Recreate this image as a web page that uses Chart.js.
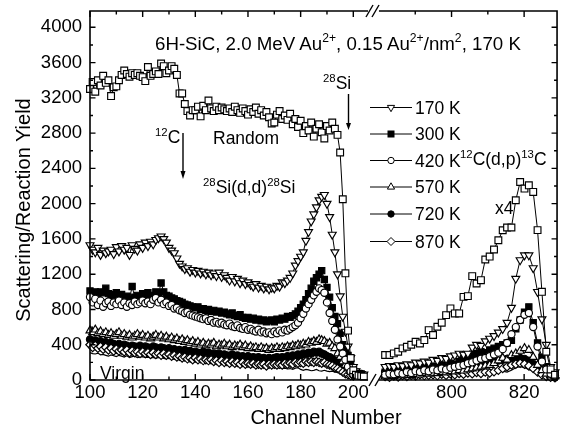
<!DOCTYPE html>
<html><head><meta charset="utf-8">
<script src="https://cdn.jsdelivr.net/npm/chart.js@4/dist/chart.umd.min.js"></script>
<style>
html,body{margin:0;padding:0;background:#fff;width:563px;height:432px;overflow:hidden;}
#wrap{position:relative;width:563px;height:432px;overflow:hidden;font-family:'Liberation Sans',Arial,sans-serif;color:#000;}
canvas{position:absolute;top:0;}
svg{position:absolute;left:0;top:0;}
.t{position:absolute;white-space:nowrap;font-size:17.5px;line-height:20px;}
.t sup{font-size:0.65em;line-height:0;vertical-align:0;position:relative;top:-0.62em;}
</style></head>
<body><div id="wrap">
<canvas id="cL" width="374" height="432" style="left:0"></canvas>
<canvas id="cR" width="190" height="432" style="left:373px"></canvas>
<svg width="563" height="432" viewBox="0 0 563 432">
  <g stroke="#000" stroke-width="1.4" fill="none">
    <line x1="366" y1="17" x2="373" y2="5"/>
    <line x1="372" y1="17" x2="379" y2="5"/>
    <line x1="369" y1="386" x2="376" y2="374"/>
    <line x1="375" y1="386" x2="382" y2="374"/>
    <line x1="183" y1="133" x2="183" y2="172"/>
    <line x1="348.5" y1="94" x2="348.5" y2="124"/>
  </g>
  <polygon points="180.5,171 185.5,171 183,179" fill="#000"/>
  <polygon points="346,123 351,123 348.5,130" fill="#000"/>
  <g stroke="#000" stroke-width="1" fill="#fff">
    <line x1="370" y1="107.5" x2="412" y2="107.5"/>
    <polygon points="391,111.7 387.4,105.4 394.6,105.4"/>
    <line x1="370" y1="134" x2="412" y2="134"/>
    <rect x="388" y="131" width="6" height="6" fill="#000"/>
    <line x1="370" y1="160.5" x2="412" y2="160.5"/>
    <circle cx="391" cy="160.5" r="3.2"/>
    <line x1="370" y1="187" x2="412" y2="187"/>
    <polygon points="391,182.8 387.4,189.1 394.6,189.1"/>
    <line x1="370" y1="214" x2="412" y2="214"/>
    <circle cx="391" cy="214" r="3.2" fill="#000"/>
    <line x1="370" y1="241.5" x2="412" y2="241.5"/>
    <polygon points="391,237.5 395,241.5 391,245.5 387,241.5"/>
  </g>
</svg>
<div class="t" style="left:155px;top:33.5px;font-size:18.7px">6H-SiC, 2.0 MeV Au<sup>2+</sup>, 0.15 Au<sup>2+</sup>/nm<sup>2</sup>, 170 K</div>
<div class="t" style="left:213px;top:128px">Random</div>
<div class="t" style="left:155px;top:127px"><sup>12</sup>C</div>
<div class="t" style="left:203px;top:177px"><sup>28</sup>Si(d,d)<sup>28</sup>Si</div>
<div class="t" style="left:323px;top:73px"><sup>28</sup>Si</div>
<div class="t" style="left:460px;top:149px"><sup>12</sup>C(d,p)<sup>13</sup>C</div>
<div class="t" style="left:495px;top:198px">x4</div>
<div class="t" style="left:100px;top:363px">Virgin</div>
<div class="t" style="left:415px;top:97.7px">170 K</div>
<div class="t" style="left:415px;top:124.2px">300 K</div>
<div class="t" style="left:415px;top:150.7px">420 K</div>
<div class="t" style="left:415px;top:177.2px">570 K</div>
<div class="t" style="left:415px;top:204.2px">720 K</div>
<div class="t" style="left:415px;top:231.7px">870 K</div>
<div class="t" style="left:126px;top:406px;width:400px;text-align:center;font-size:20px;line-height:22px">Channel Number</div>
<div class="t" style="left:-127px;top:198px;width:300px;height:24px;text-align:center;font-size:20px;line-height:24px;transform:rotate(-90deg)">Scattering/Reaction Yield</div>
</div>
<script>
// ---- data ----
const leftChannels = Array.from({length: 105}, (_, i) => 100 + i);
const rightChannels = Array.from({length: 40}, (_, i) => +(781.7 + 1.2 * i).toFixed(1));
const xTicksLeft = [100, 120, 140, 160, 180, 200];
const xTicksRight = [800, 820];
const yTicks = [0, 400, 800, 1200, 1600, 2000, 2400, 2800, 3200, 3600, 4000];

const randomLeft = [3300,3380,3270,3400,3340,3450,3370,3400,3220,3320,
3330,3400,3460,3510,3470,3440,3480,3460,3480,3450,
3435,3390,3550,3450,3470,3500,3470,3590,3560,3480,
3510,3560,3530,3460,3250,3250,3130,3050,3000,3060,
3060,3100,2990,3110,3060,3170,3080,3050,3100,3060,
3090,3070,3050,3080,3040,3100,3060,3030,3080,3050,
3010,3070,3040,3090,3020,3060,3000,3040,2980,2910,
2920,3010,3050,2960,3000,2950,3020,2900,2960,2870,
2940,2800,2880,2830,2920,2760,2850,2900,2810,2740,
2880,2830,2920,2850,2780,2580,2050,1210,560,250,
110,60,50,45,40];
const k170Left = [1530,1480,1450,1500,1420,1470,1440,1460,1480,1430,
1510,1460,1520,1480,1500,1420,1530,1490,1470,1540,
1500,1560,1520,1570,1540,1590,1610,1630,1600,1560,
1500,1470,1440,1380,1320,1290,1260,1270,1230,1250,
1220,1240,1210,1230,1200,1220,1190,1210,1180,1220,
1170,1190,1160,1130,1170,1120,1150,1100,1130,1090,
1110,1080,1060,1090,1050,1070,1040,1060,1030,1050,
1040,1070,1060,1110,1100,1130,1160,1210,1300,1350,
1400,1450,1580,1680,1800,1880,1960,2040,2080,2100,
2000,1850,1650,1450,1200,950,720,550,380,250,
150,100,80,70,65];
const k300Left = [1010,980,1000,960,1000,990,1040,980,970,950,
990,960,970,930,950,920,1060,940,960,930,
980,950,990,960,940,1000,980,1100,1000,960,
950,930,920,900,890,880,860,850,840,830,
820,830,800,810,790,800,780,790,770,780,
760,770,750,740,760,730,720,740,710,700,
710,690,700,680,690,670,680,660,670,680,
660,690,680,700,690,720,710,730,750,780,
820,860,910,980,1040,1120,1160,1200,1240,1140,
1050,940,820,720,640,530,400,330,280,190,
120,90,75,70];
const k420Left = [940,880,920,850,900,830,870,890,840,880,
860,900,850,880,830,870,850,890,860,880,
900,870,890,860,910,930,880,910,860,880,
840,850,810,820,790,780,760,770,740,730,
720,710,700,690,700,670,680,650,660,640,
650,630,620,640,610,600,620,590,580,600,
570,580,560,550,570,540,550,530,540,520,
550,530,560,540,570,560,580,600,620,650,
700,750,810,860,910,960,1000,1040,1020,990,
880,760,670,570,460,380,300,230,150,95,
65,55];
const k570Left = [560,540,570,530,550,520,540,510,530,500,
520,540,500,520,490,510,480,500,520,490,
510,480,500,470,490,510,480,500,470,490,
460,480,450,470,440,460,430,450,420,440,
410,430,400,420,390,410,400,420,380,400,
390,410,380,400,370,390,380,400,370,390,
360,380,360,370,350,370,350,360,340,360,
350,370,350,370,360,380,370,390,380,400,
390,410,400,430,420,440,430,460,450,440,
410,420,380,360,300,260,210,170,130,100,
80,60,50];
const k720Left = [460,430,450,420,440,410,430,400,420,410,
390,410,380,400,390,370,390,380,370,390,
360,380,370,360,380,370,350,370,360,340,
360,340,350,330,340,320,340,320,330,310,
320,310,300,320,300,310,290,300,290,300,
280,290,280,270,290,270,280,260,270,260,
270,250,260,250,260,240,250,240,250,240,
250,260,250,260,250,270,260,280,270,290,
280,300,290,310,300,320,310,320,300,290,
270,260,240,220,190,160,130,100,80,60,
50];
const k870Left = [400,370,390,360,380,350,370,340,360,330,
350,330,340,320,340,310,330,310,320,300,
320,300,310,290,310,290,300,280,300,280,
290,270,280,260,270,250,260,240,250,230,
250,230,240,220,230,220,230,210,220,200,
220,200,210,190,210,190,200,180,200,180,
190,180,190,170,180,170,180,160,180,170,
180,170,180,170,190,180,190,180,200,190,
200,190,210,200,210,200,210,200,190,200,
180,170,160,140,130,110,90,70,60,50,
45];
const virginLeft = [310,300,295,305,285,290,280,270,285,275,
265,280,270,260,275,255,265,270,255,260,
265,255,260,250,255,245,255,260,245,240,
250,235,240,225,235,240,225,215,225,210,
215,205,210,195,205,200,190,195,185,190,
180,185,175,180,170,175,165,175,160,165,
160,155,165,150,155,150,145,150,140,145,
140,135,140,130,135,125,130,120,135,140,
120,110,120,115,105,110,120,105,100,110,
100,95,100,90,85,80,70,60,50,45,
40,35,30,30,30];

const randomRight = [283,283,302,320,359,377,400,434,415,453,
566,510,604,650,736,812,755,755,943,951,
1178,1095,1132,1367,1400,1480,1585,1699,1729,1729,
2038,2246,2171,2208,2133,1700,1000,320,120,60];
const k170Right = [150,160,150,170,160,180,170,200,190,210,
200,230,220,250,240,270,280,300,290,300,
370,400,390,440,470,500,540,580,650,820,
1150,1360,1415,1415,1270,1000,690,400,150,90];
const k300Right = [90,100,95,110,100,120,110,130,120,140,
130,150,140,170,160,190,180,210,230,250,
280,300,320,310,340,360,380,400,420,450,
580,680,770,830,650,420,260,150,90,60];
const k420Right = [60,70,65,80,70,90,80,100,90,110,
100,120,110,130,120,140,150,160,170,190,
200,220,240,250,270,290,310,350,420,520,
600,680,740,760,600,380,210,120,70,50];
const k570Right = [40,50,45,55,50,60,55,65,60,75,
70,80,75,90,85,100,95,110,105,120,
130,140,150,160,170,190,220,250,230,280,
300,330,360,340,260,170,110,70,50,40];
const k720Right = [90,100,95,110,100,105,115,110,120,115,
130,125,140,135,150,140,160,150,170,165,
180,175,190,185,200,210,220,230,240,250,
260,250,240,220,180,130,90,60,40,30];
const k870Right = [40,30,45,35,50,40,55,45,60,50,
55,60,50,65,55,70,60,75,65,80,
70,85,75,90,80,95,110,130,150,170,
180,190,180,160,130,90,60,40,30,25];
const virginRight = [50,45,55,50,60,55,50,60,70,60,
55,65,80,70,60,55,65,80,70,60,
75,90,80,70,85,100,110,100,90,110,
140,150,140,120,100,80,60,45,35,30];

// ---- styles (drawing order: first = on top) ----
const seriesList = [
  {label:'Random', left:randomLeft, right:randomRight, ps:'rect', r:4.8, fill:'#fff', rot:0},
  {label:'170 K', left:k170Left, right:k170Right, ps:'triangle', r:4.6, fill:'#fff', rot:180},
  {label:'420 K', left:k420Left, right:k420Right, ps:'circle', r:3.6, fill:'#fff', rot:0},
  {label:'300 K', left:k300Left, right:k300Right, ps:'rect', r:4.4, fill:'#000', rot:0},
  {label:'570 K', left:k570Left, right:k570Right, ps:'triangle', r:4.6, fill:'#fff', rot:0},
  {label:'870 K', left:k870Left, right:k870Right, ps:'rectRot', r:4.2, fill:'#fff', rot:0},
  {label:'720 K', left:k720Left, right:k720Right, ps:'circle', r:3.6, fill:'#000', rot:0},
  {label:'Virgin', left:virginLeft, right:virginRight, ps:'circle', r:0, fill:'#000', rot:0}
];

const FONT = "'Liberation Sans', Arial, sans-serif";

function makeDatasets(side) {
  const ch = side === 'L' ? leftChannels : rightChannels;
  return seriesList.map(s => {
    const vals = side === 'L' ? s.left : s.right;
    return {
      label: s.label,
      data: vals.map((v, i) => ({x: ch[i], y: v})),
      borderColor: '#000',
      borderWidth: s.r === 0 ? 1.2 : 1,
      pointStyle: s.ps,
      pointRadius: s.r,
      pointRotation: s.rot,
      pointBackgroundColor: s.fill,
      pointBorderColor: '#000',
      pointBorderWidth: 1.15,
      tension: 0,
      fill: false,
      clip: false
    };
  });
}

function framePlugin(cfg) {
  return {
    id: 'frame' + cfg.name,
    afterDraw(chart) {
      const {ctx, chartArea: a} = chart;
      const xs = chart.scales.x, ys = chart.scales.y;
      ctx.save();
      ctx.strokeStyle = '#000';
      ctx.lineWidth = 1.6;
      ctx.beginPath();
      ctx.moveTo(a.left, a.top); ctx.lineTo(a.right, a.top);
      ctx.moveTo(a.left, a.bottom); ctx.lineTo(a.right, a.bottom);
      if (cfg.left) { ctx.moveTo(a.left, a.top - 0.8); ctx.lineTo(a.left, a.bottom + 0.8); }
      if (cfg.right) { ctx.moveTo(a.right, a.top - 0.8); ctx.lineTo(a.right, a.bottom + 0.8); }
      ctx.stroke();
      ctx.lineWidth = 1.4;
      ctx.beginPath();
      const xt = (v, len) => { const p = xs.getPixelForValue(v); ctx.moveTo(p, a.bottom); ctx.lineTo(p, a.bottom - len); ctx.moveTo(p, a.top); ctx.lineTo(p, a.top + len); };
      cfg.xMajor.forEach(v => xt(v, 6));
      cfg.xMinor.forEach(v => xt(v, 3.5));
      const yt = (v, len) => { const p = ys.getPixelForValue(v);
        if (cfg.left) { ctx.moveTo(a.left, p); ctx.lineTo(a.left + len, p); }
        if (cfg.right) { ctx.moveTo(a.right, p); ctx.lineTo(a.right - len, p); } };
      yTicks.forEach(v => yt(v, 5.5));
      yTicks.forEach(v => { if (v + 200 < ys.max) yt(v + 200, 3); });
      ctx.stroke();
      ctx.restore();
    }
  };
}

function makeChart(id, side) {
  const isL = side === 'L';
  return new Chart(document.getElementById(id), {
    type: 'line',
    data: {datasets: makeDatasets(side)},
    options: {
      responsive: false, animation: false, devicePixelRatio: 1,
      layout: {padding: isL ? {left: 0, right: 2, top: 11, bottom: 0} : {left: 4, right: 2, top: 11, bottom: 0}},
      plugins: {legend: {display: false}, tooltip: {enabled: false}},
      scales: {
        x: {
          type: 'linear', min: isL ? 100 : 780, max: isL ? 205.6 : 829.07,
          afterBuildTicks: s => { s.ticks = (isL ? xTicksLeft : xTicksRight).map(v => ({value: v})); },
          afterFit: s => { s.height = 52; s.paddingLeft = 0; s.paddingRight = 0; },
          grid: {display: false, drawTicks: false}, border: {display: false},
          ticks: {font: {family: FONT, size: 18.5}, color: '#000', padding: 2, maxRotation: 0, autoSkip: false, callback: v => String(v)}
        },
        y: {
          type: 'linear', min: 0, max: 4185, display: isL,
          afterBuildTicks: s => { s.ticks = yTicks.map(v => ({value: v})); },
          afterFit: s => { s.width = isL ? 90 : 0; s.paddingTop = 0; s.paddingBottom = 0; },
          grid: {display: false, drawTicks: false}, border: {display: false},
          ticks: {font: {family: FONT, size: 18.5}, color: '#000', padding: 8, autoSkip: false, callback: v => String(v)}
        }
      }
    },
    plugins: [framePlugin({
      name: side, left: isL, right: !isL,
      xMajor: isL ? xTicksLeft : xTicksRight,
      xMinor: isL ? [110, 130, 150, 170, 190] : [790, 810]
    })]
  });
}

makeChart('cL', 'L');
makeChart('cR', 'R');
</script>
</body></html>
